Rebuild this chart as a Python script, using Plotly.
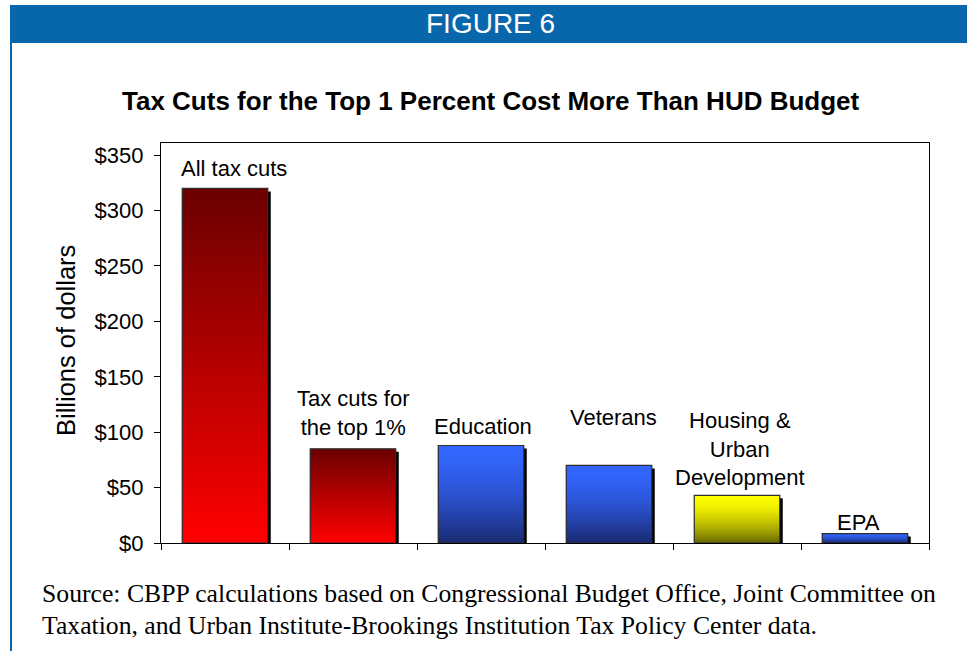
import plotly.graph_objects as go

# ---------------- data ----------------
categories = ["All tax cuts", "Tax cuts for the top 1%", "Education", "Veterans",
              "Housing & Urban Development", "EPA"]
values = [320, 85, 88, 70, 43, 8.5]
label_text = ["All tax cuts", "Tax cuts for<br>the top 1%", "Education", "Veterans",
              "Housing &<br>Urban<br>Development", "EPA"]
y_tick_vals = [0, 50, 100, 150, 200, 250, 300, 350]
y_tick_text = ["$0", "$50", "$100", "$150", "$200", "$250", "$300", "$350"]

title_text = "Tax Cuts for the Top 1 Percent Cost More Than HUD Budget"
figure_text = "FIGURE 6"
y_title = "Billions of dollars"
source_lines = [
    "Source: CBPP calculations based on Congressional Budget Office, Joint Committee on",
    "Taxation, and Urban Institute-Brookings Institution Tax Policy Center data.",
]

# ---------------- style ----------------
W, H = 967, 651
L, R, T, B = 161, 38, 143, 108
Y_MAX = 361
PW, PH = W - L - R, H - T - B

RED = ((107, 0, 0), (255, 0, 0), 1.0)
BLUE = ((51, 102, 255), (27, 42, 112), 1.6)
YEL = ((255, 255, 0), (105, 105, 0), 1.6)
bar_styles = [RED, RED, BLUE, BLUE, YEL, BLUE]
# label shifts in px (dx, dy above bar top)
label_shift = [(9, 20), (0, 36), (2, 19), (4, 48), (3, 46), (-7, 11)]

BAR_W = 0.668
N_SEG = 70
FONT = "Liberation Sans, Arial, sans-serif"
HEADER_BLUE = "rgb(8,103,170)"

unit_px = PH / Y_MAX
cat_px = PW / len(categories)


def px2x(px):
    return (px - L) / PW


def px2y(py):
    return (H - B - py) / PH


def mix(style, s):
    top, bot, g = style
    t = s ** g
    c = [round(top[i] + (bot[i] - top[i]) * t) for i in range(3)]
    return f"rgb({c[0]},{c[1]},{c[2]})"


fig = go.Figure()

# shadow
sdx, sdy = 3, 3
fig.add_trace(go.Bar(
    x=categories, y=[v - sdy / unit_px for v in values],
    width=BAR_W, offset=-BAR_W / 2 + sdx / cat_px,
    marker=dict(color="black", line=dict(width=0)),
    hoverinfo="skip", showlegend=False))

# gradient: overlapping bars from base 0, each shorter one painted on top
for k in range(N_SEG):
    frac = (N_SEG - k) / N_SEG
    s = 1 - (N_SEG - k - 0.5) / N_SEG  # distance from top (0 top, 1 bottom)
    fig.add_trace(go.Bar(
        x=categories, y=[v * frac for v in values],
        width=BAR_W, offset=-BAR_W / 2,
        marker=dict(color=[mix(st, s) for st in bar_styles], line=dict(width=0)),
        hoverinfo="skip", showlegend=False))

# outline
fig.add_trace(go.Bar(
    x=categories, y=values, width=BAR_W, offset=-BAR_W / 2,
    marker=dict(color="rgba(0,0,0,0)", line=dict(width=1.2, color="rgb(45,45,45)")),
    hoverinfo="skip", showlegend=False))

annotations = []
for cat, v, txt, (dx, dy) in zip(categories, values, label_text, label_shift):
    annotations.append(dict(
        x=cat, y=v, xref="x", yref="y", text=txt, showarrow=False,
        xanchor="center", yanchor="middle", xshift=dx, yshift=dy,
        font=dict(family=FONT, size=22, color="black"), align="center"))

annotations += [
    dict(x=px2x(490), y=px2y(24), xref="paper", yref="paper", text=figure_text,
         showarrow=False, xanchor="center", yanchor="middle",
         font=dict(family="Liberation Sans Narrow, Arial Narrow, Liberation Sans, Arial", size=28, color="white")),
    dict(x=px2x(491), y=px2y(101), xref="paper", yref="paper", text=f"<b>{title_text}</b>",
         showarrow=False, xanchor="center", yanchor="middle",
         font=dict(family=FONT, size=26, color="black")),
    dict(x=px2x(66), y=px2y(341), xref="paper", yref="paper", text=y_title,
         showarrow=False, xanchor="center", yanchor="middle", textangle=-90,
         font=dict(family=FONT, size=25.5, color="black")),
    dict(x=px2x(40), y=px2y(593), xref="paper", yref="paper", text=source_lines[0],
         showarrow=False, xanchor="left", yanchor="middle",
         font=dict(family="Liberation Serif, Times New Roman, serif", size=25.7, color="black")),
    dict(x=px2x(40), y=px2y(625), xref="paper", yref="paper", text=source_lines[1],
         showarrow=False, xanchor="left", yanchor="middle",
         font=dict(family="Liberation Serif, Times New Roman, serif", size=25.7, color="black")),
]

shapes = [
    dict(type="rect", xref="paper", yref="paper", x0=px2x(10), x1=px2x(968),
         y0=px2y(43), y1=px2y(5), fillcolor=HEADER_BLUE, line=dict(width=0), layer="below"),
    dict(type="rect", xref="paper", yref="paper", x0=px2x(10), x1=px2x(12),
         y0=px2y(652), y1=px2y(5), fillcolor=HEADER_BLUE, line=dict(width=0), layer="below"),
]

fig.update_layout(
    width=W, height=H, margin=dict(l=L, r=R, t=T, b=B),
    paper_bgcolor="white", plot_bgcolor="white",
    barmode="overlay", showlegend=False,
    annotations=annotations, shapes=shapes,
    font=dict(family=FONT, color="black"),
)
fig.update_xaxes(
    type="category", categoryorder="array", categoryarray=categories,
    range=[-0.5, len(categories) - 0.5], showline=True, linecolor="black", linewidth=1.2,
    mirror=True, ticks="outside", tickson="boundaries", ticklen=6, tickcolor="black",
    tickwidth=1, showticklabels=False, showgrid=False, zeroline=False)
fig.update_yaxes(
    range=[0, Y_MAX], tickvals=y_tick_vals, ticktext=y_tick_text,
    showline=True, linecolor="black", linewidth=1.2, mirror=True,
    ticks="outside", ticklen=6, tickcolor="black", tickwidth=1,
    ticklabelstandoff=6,
    tickfont=dict(family=FONT, size=22, color="black"),
    showgrid=False, zeroline=False)

fig.write_html("out.html")
